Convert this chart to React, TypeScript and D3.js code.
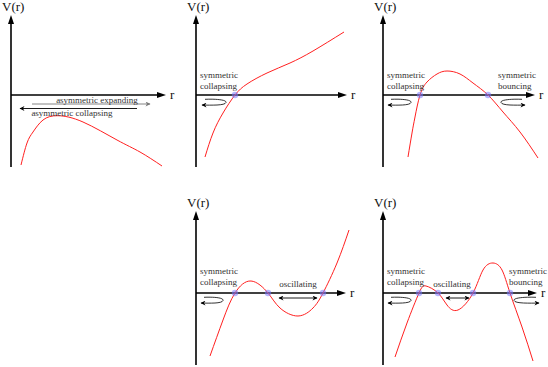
import React, { useRef, useEffect } from 'react'
import * as d3 from 'd3'

// curve samples, [r, V] in axis units (1 unit = 10px)
const curveAsymmetric = [
  [1.0, -7.0], [1.6, -4.8], [2.2, -3.7], [3.2, -2.5], [4.7, -2.07],
  [7.2, -2.7], [10.6, -4.5], [12.9, -5.7], [15.1, -7.1],
]
const curveCollapsing = [
  [0.9, -6.2], [1.7, -3.8], [2.7, -1.8], [3.9, 0], [5.1, 1.1],
  [7.1, 2.2], [9.4, 3.2], [11.7, 4.4], [14.8, 6.3],
]
const curveBouncing = [
  [2.5, -6.2], [2.9, -3.8], [3.2, -2.2], [3.7, 0], [4.4, 1.3], [5.4, 2.1],
  [6.4, 2.4], [7.7, 2.1], [9.0, 1.2], [10.5, 0], [12.0, -1.7], [13.7, -3.7], [15.5, -6.3],
]
const curveOscillating = [
  [1.4, -6.3], [2.7, -2.7], [3.9, 0], [5.5, 1.2], [7.2, 0], [8.4, -1.5],
  [10.2, -2.3], [11.7, -1.5], [12.7, 0], [14.1, 3.0], [15.3, 6.3],
]
const curveFull = [
  [1.2, -6.4], [2.4, -3.0], [3.6, 0], [4.3, 0.7], [5.5, 0], [6.4, -1.2],
  [7.5, -1.7], [9.0, 0], [10.0, 2.3], [11.0, 3.0], [11.9, 2.3], [12.7, 0],
  [13.9, -3.4], [15.0, -6.8],
]

// zero crossings (r)
const roots2 = [3.9]
const roots3 = [3.7, 10.5]
const roots4 = [3.9, 7.2, 12.7]
const roots5 = [3.6, 5.5, 9.0, 12.7]

const axisLabelY = 'V(r)'
const axisLabelX = 'r'

type Panel = {
  ox: number
  oy: number
  top: number
  bottom: number
  xEnd: number
  curve: number[][]
  roots: number[]
}

const panels: Panel[] = [
  { ox: 11, oy: 95, top: 15, bottom: 167, xEnd: 166, curve: curveAsymmetric, roots: [] },
  { ox: 196, oy: 95, top: 15, bottom: 167, xEnd: 347, curve: curveCollapsing, roots: roots2 },
  { ox: 383, oy: 95, top: 15, bottom: 167, xEnd: 535, curve: curveBouncing, roots: roots3 },
  { ox: 196, oy: 293, top: 211, bottom: 365, xEnd: 346, curve: curveOscillating, roots: roots4 },
  { ox: 383, oy: 293, top: 211, bottom: 365, xEnd: 537, curve: curveFull, roots: roots5 },
]

const FONT = '"Liberation Serif", "DejaVu Serif", serif'

const drawPanel = (g: d3.Selection<SVGGElement, unknown, null, undefined>, p: Panel) => {
  const x = d3.scaleLinear().domain([0, 1]).range([p.ox, p.ox + 10])
  const y = d3.scaleLinear().domain([0, 1]).range([p.oy, p.oy - 10])

  // axes
  g.append('line')
    .attr('x1', p.ox).attr('y1', p.bottom).attr('x2', p.ox).attr('y2', p.top + 6)
    .attr('stroke', '#000').attr('stroke-width', 1.6)
  g.append('path')
    .attr('d', `M${p.ox},${p.top} L${p.ox - 3},${p.top + 9} L${p.ox + 3},${p.top + 9} Z`)
    .attr('fill', '#000')
  g.append('line')
    .attr('x1', p.ox).attr('y1', p.oy).attr('x2', p.xEnd - 6).attr('y2', p.oy)
    .attr('stroke', '#000').attr('stroke-width', 1.6)
  g.append('path')
    .attr('d', `M${p.xEnd},${p.oy} L${p.xEnd - 9},${p.oy - 3} L${p.xEnd - 9},${p.oy + 3} Z`)
    .attr('fill', '#000')

  g.append('text')
    .attr('x', p.ox - 9).attr('y', p.top - 4)
    .attr('font-family', FONT).attr('font-size', 13)
    .attr('fill', '#111')
    .text(axisLabelY)
  g.append('text')
    .attr('x', p.xEnd + 4).attr('y', p.oy + 4)
    .attr('font-family', FONT).attr('font-size', 13)
    .attr('fill', '#111')
    .text(axisLabelX)

  const line = d3
    .line<number[]>()
    .x((d) => x(d[0]))
    .y((d) => y(d[1]))
    .curve(d3.curveNatural)

  g.append('path')
    .datum(p.curve)
    .attr('fill', 'none')
    .attr('stroke', '#ff2020')
    .attr('stroke-width', 1)
    .attr('d', line)

  g.selectAll('circle.root')
    .data(p.roots)
    .enter()
    .append('circle')
    .attr('cx', (d) => x(d))
    .attr('cy', y(0))
    .attr('r', 3.2)
    .attr('fill', '#7a7aff')
    .attr('opacity', 0.55)
}

const label = (
  g: d3.Selection<SVGGElement, unknown, null, undefined>,
  lines: string[],
  x: number,
  y: number,
  anchor = 'start',
) => {
  lines.forEach((t, i) => {
    g.append('text')
      .attr('x', x).attr('y', y + i * 10.5)
      .attr('text-anchor', anchor)
      .attr('font-family', FONT).attr('font-size', 9)
      .attr('fill', '#333')
      .text(t)
  })
}

// rotating loop; dir -1 = arrow points left, 1 = right
const loop = (g: d3.Selection<SVGGElement, unknown, null, undefined>, x0: number, x1: number, yc: number, dir: number) => {
  const yt = yc - 2.6
  const yb = yc + 2.6
  let d
  if (dir < 0) {
    d = `M${x0 + 4},${yt - 0.6} C${x0 + 12},${yt - 1} ${x1 + 2},${yt - 0.5} ${x1 + 1},${yc} C${x1},${yb + 0.6} ${x0 + 10},${yb} ${x0 + 1},${yb}`
  } else {
    d = `M${x1 - 4},${yt - 0.6} C${x1 - 12},${yt - 1} ${x0 - 2},${yt - 0.5} ${x0 - 1},${yc} C${x0},${yb + 0.6} ${x1 - 10},${yb} ${x1 - 1},${yb}`
  }
  g.append('path')
    .attr('d', d)
    .attr('fill', 'none')
    .attr('stroke', '#000')
    .attr('stroke-width', 0.8)
    .attr('marker-end', 'url(#head)')
}

const arrow = (
  g: d3.Selection<SVGGElement, unknown, null, undefined>,
  x0: number,
  x1: number,
  yv: number,
  color: string,
  start: boolean,
  end: boolean,
) => {
  const l = g.append('line')
    .attr('x1', x0).attr('y1', yv).attr('x2', x1).attr('y2', yv)
    .attr('stroke', color).attr('stroke-width', 0.9)
  if (start) l.attr('marker-start', color === '#000' ? 'url(#headStart)' : 'url(#headStartGray)')
  if (end) l.attr('marker-end', color === '#000' ? 'url(#head)' : 'url(#headGray)')
}

const render = (svg: SVGSVGElement) => {
  const svgD3 = d3.select(svg)
  svgD3.selectAll('*').remove()

  const defs = svgD3.append('defs')
  const mk = (id: string, color: string, startSide: boolean) => {
    defs.append('marker')
      .attr('id', id)
      .attr('viewBox', '0 0 10 10')
      .attr('refX', startSide ? 1 : 9).attr('refY', 5)
      .attr('markerWidth', 6).attr('markerHeight', 5)
      .attr('markerUnits', 'userSpaceOnUse')
      .attr('orient', 'auto')
      .append('path')
      .attr('d', startSide ? 'M10,0 L0,5 L10,10 L7,5 Z' : 'M0,0 L10,5 L0,10 L3,5 Z')
      .attr('fill', color)
  }
  mk('head', '#000', false)
  mk('headStart', '#000', true)
  mk('headGray', '#777', false)
  mk('headStartGray', '#777', true)

  svgD3.append('rect').attr('width', 548).attr('height', 367).attr('fill', '#fff')

  const g = svgD3.append('g')
  panels.forEach((p) => drawPanel(g, p))

  // panel 1 annotations
  arrow(g, 32, 150, 104, '#777', false, true)
  label(g, ['asymmetric expanding'], 97, 103, 'middle')
  arrow(g, 20, 137, 108.5, '#000', true, false)
  label(g, ['asymmetric collapsing'], 72, 116, 'middle')

  // panel 2
  label(g, ['symmetric', 'collapsing'], 200, 78)
  loop(g, 201, 225, 102.5, -1)

  // panel 3
  label(g, ['symmetric', 'collapsing'], 387, 78)
  loop(g, 387, 410, 102.5, -1)
  label(g, ['symmetric', 'bouncing'], 498, 78)
  loop(g, 502, 526, 102.5, 1)

  // panel 4
  label(g, ['symmetric', 'collapsing'], 200, 274)
  loop(g, 200, 222, 300.5, -1)
  label(g, ['oscillating'], 298, 287, 'middle')
  arrow(g, 279, 317, 298, '#000', true, true)

  // panel 5
  label(g, ['symmetric', 'collapsing'], 387, 274)
  loop(g, 387, 410, 300.5, -1)
  label(g, ['oscillating'], 452, 287, 'middle')
  arrow(g, 446, 469, 298, '#000', true, true)
  label(g, ['symmetric', 'bouncing'], 509, 274)
  loop(g, 515, 540, 300.5, 1)
}

export default function App() {
  const ref = useRef<SVGSVGElement>(null)
  useEffect(() => {
    if (ref.current) render(ref.current)
  }, [])
  return (
    <svg
      ref={ref}
      width={548}
      height={367}
      style={{ position: 'absolute', left: 0, top: 0, background: '#fff' }}
    />
  )
}
